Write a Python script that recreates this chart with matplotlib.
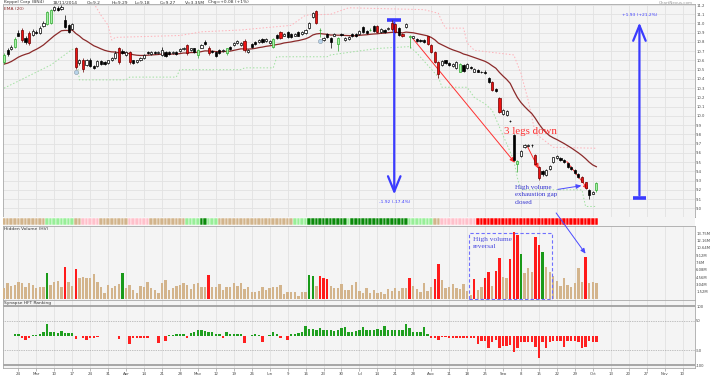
import numpy as np
import pandas as pd
import matplotlib.pyplot as plt
from matplotlib.patches import Rectangle, ConnectionPatch

# ---- price data ----
opens = [10.58, 10.71, 10.72, 10.75, 10.90, 10.93, 10.84, 10.90, 10.88, 10.91,
         10.90, 10.97, 10.99, 11.00, 11.15, 11.17, 11.16, 11.04, 10.98, 10.94,
         10.74, 10.57, 10.61, 10.55, 10.61, 10.54, 10.54, 10.59, 10.58, 10.57,
         10.60, 10.63, 10.73, 10.70, 10.66, 10.69, 10.60, 10.58, 10.60, 10.63,
         10.69, 10.67, 10.69, 10.68, 10.66, 10.69, 10.69, 10.68, 10.69, 10.70,
         10.72, 10.77, 10.71, 10.73, 10.66, 10.74, 10.80, 10.74, 10.70, 10.69,
         10.71, 10.70, 10.68, 10.75, 10.77, 10.79, 10.77, 10.81, 10.69, 10.78,
         10.80, 10.80, 10.83, 10.81, 10.79, 10.75, 10.88, 10.91, 10.87, 10.91,
         10.89, 10.87, 10.91, 10.89, 10.90, 10.95, 11.07, 11.13, 10.93, 10.82,
         10.89, 10.84, 10.87, 10.78, 10.89, 10.82, 10.83, 10.89, 10.89, 10.89,
         10.96, 10.92, 10.93, 10.97, 10.97, 10.91, 10.93, 10.94, 11.01, 10.99,
         10.95, 10.89, 10.96, 10.85, 10.84, 10.83, 10.82, 10.82, 10.86, 10.77,
         10.69, 10.58, 10.55, 10.60, 10.57, 10.54, 10.52, 10.48, 10.55, 10.52,
         10.53, 10.48, 10.50, 10.48, 10.48, 10.41, 10.37, 10.29, 10.19, 10.02,
         10.01, 9.95, 9.79, 9.48, 9.57, 9.66, 9.67, 9.69, 9.58, 9.45,
         9.40, 9.36, 9.43, 9.50, 9.54, 9.54, 9.52, 9.49, 9.45, 9.42,
         9.37, 9.34, 9.28, 9.20, 9.16, 9.20]
highs = [10.68, 10.73, 10.77, 10.85, 10.93, 10.95, 10.86, 10.92, 10.94, 10.93,
         10.97, 11.03, 11.13, 11.16, 11.19, 11.19, 11.20, 11.09, 10.99, 11.00,
         10.75, 10.62, 10.63, 10.62, 10.63, 10.55, 10.60, 10.60, 10.59, 10.61,
         10.64, 10.70, 10.75, 10.72, 10.70, 10.70, 10.61, 10.61, 10.64, 10.67,
         10.70, 10.70, 10.70, 10.70, 10.75, 10.70, 10.70, 10.70, 10.70, 10.73,
         10.75, 10.78, 10.74, 10.74, 10.72, 10.78, 10.82, 10.76, 10.71, 10.70,
         10.72, 10.72, 10.74, 10.76, 10.80, 10.82, 10.80, 10.83, 10.72, 10.79,
         10.81, 10.83, 10.84, 10.84, 10.82, 10.84, 10.89, 10.92, 10.90, 10.92,
         10.90, 10.90, 10.92, 10.92, 10.94, 11.02, 11.12, 11.15, 10.95, 10.85,
         10.90, 10.85, 10.90, 10.85, 10.90, 10.85, 10.86, 10.90, 10.90, 10.93,
         10.97, 10.93, 10.95, 10.98, 10.98, 10.95, 10.94, 10.96, 11.04, 11.00,
         10.96, 10.90, 11.00, 10.88, 10.87, 10.84, 10.83, 10.83, 10.87, 10.78,
         10.70, 10.59, 10.60, 10.61, 10.58, 10.57, 10.59, 10.57, 10.56, 10.57,
         10.54, 10.52, 10.51, 10.49, 10.50, 10.42, 10.38, 10.30, 10.20, 10.07,
         10.06, 9.96, 9.80, 9.52, 9.63, 9.70, 9.70, 9.70, 9.59, 9.46,
         9.41, 9.43, 9.47, 9.56, 9.58, 9.55, 9.53, 9.50, 9.46, 9.43,
         9.38, 9.35, 9.29, 9.21, 9.19, 9.29]
lows = [10.56, 10.65, 10.71, 10.74, 10.86, 10.80, 10.78, 10.77, 10.87, 10.89,
        10.89, 10.96, 10.98, 10.99, 11.14, 11.14, 11.15, 10.95, 10.90, 10.93,
        10.51, 10.55, 10.48, 10.54, 10.53, 10.51, 10.53, 10.55, 10.55, 10.56,
        10.59, 10.62, 10.56, 10.67, 10.65, 10.56, 10.56, 10.57, 10.59, 10.62,
        10.67, 10.66, 10.67, 10.67, 10.65, 10.64, 10.66, 10.67, 10.66, 10.69,
        10.71, 10.66, 10.70, 10.68, 10.63, 10.73, 10.77, 10.66, 10.68, 10.64,
        10.67, 10.69, 10.66, 10.71, 10.76, 10.78, 10.76, 10.69, 10.68, 10.74,
        10.77, 10.79, 10.79, 10.80, 10.78, 10.74, 10.83, 10.83, 10.86, 10.84,
        10.84, 10.86, 10.86, 10.88, 10.89, 10.94, 11.06, 10.99, 10.85, 10.81,
        10.84, 10.73, 10.86, 10.70, 10.87, 10.81, 10.82, 10.85, 10.85, 10.88,
        10.90, 10.89, 10.92, 10.91, 10.90, 10.90, 10.90, 10.93, 10.92, 10.90,
        10.87, 10.85, 10.95, 10.73, 10.83, 10.80, 10.80, 10.79, 10.77, 10.68,
        10.57, 10.41, 10.54, 10.56, 10.54, 10.53, 10.51, 10.47, 10.48, 10.51,
        10.51, 10.47, 10.47, 10.46, 10.45, 10.36, 10.27, 10.26, 10.03, 10.01,
        10.00, 9.93, 9.51, 9.39, 9.56, 9.65, 9.66, 9.66, 9.47, 9.31,
        9.35, 9.35, 9.42, 9.49, 9.53, 9.51, 9.49, 9.44, 9.42, 9.37,
        9.33, 9.28, 9.21, 9.10, 9.15, 9.18]
closes = [10.66, 10.67, 10.75, 10.83, 10.87, 10.82, 10.80, 10.79, 10.92, 10.90,
          10.95, 11.01, 11.12, 11.15, 11.18, 11.15, 11.18, 10.96, 10.91, 10.99,
          10.53, 10.61, 10.51, 10.61, 10.54, 10.52, 10.59, 10.56, 10.56, 10.60,
          10.63, 10.68, 10.58, 10.68, 10.69, 10.58, 10.57, 10.60, 10.63, 10.66,
          10.68, 10.69, 10.68, 10.69, 10.71, 10.65, 10.67, 10.69, 10.67, 10.72,
          10.74, 10.68, 10.73, 10.69, 10.71, 10.77, 10.78, 10.68, 10.69, 10.65,
          10.68, 10.71, 10.73, 10.72, 10.79, 10.81, 10.79, 10.71, 10.71, 10.75,
          10.78, 10.82, 10.80, 10.83, 10.81, 10.83, 10.84, 10.84, 10.89, 10.85,
          10.85, 10.89, 10.87, 10.91, 10.93, 11.01, 11.11, 11.00, 10.93, 10.84,
          10.85, 10.80, 10.89, 10.84, 10.88, 10.84, 10.85, 10.86, 10.86, 10.92,
          10.91, 10.90, 10.93, 10.92, 10.91, 10.94, 10.91, 10.95, 10.94, 10.91,
          10.88, 10.86, 10.99, 10.87, 10.86, 10.81, 10.81, 10.80, 10.78, 10.69,
          10.58, 10.45, 10.59, 10.57, 10.55, 10.56, 10.58, 10.56, 10.49, 10.56,
          10.52, 10.51, 10.48, 10.47, 10.46, 10.37, 10.28, 10.27, 10.04, 10.06,
          10.05, 9.94, 9.52, 9.51, 9.62, 9.69, 9.69, 9.68, 9.48, 9.33,
          9.37, 9.42, 9.46, 9.55, 9.57, 9.52, 9.50, 9.45, 9.43, 9.38,
          9.34, 9.29, 9.22, 9.14, 9.18, 9.27]
# candle colour: u = up, d = down, r = red, g = green
candle_kind = ("gdugdrdrud" "uuggududdu" "rurudduddu" "uurdurduuu" "duduuddudu"
               "urudgudrdd" "dugduuurud" "duduugdrud" "duduuuurgu" "ddugduuddu"
               "ddgdrudurr" "drugudddrr" "rrudduugdu" "duddddrdru" "uddguuudrr"
               "duuuuddddd" "drrdug")
signal_idx = [20, 88]
signal_price = [10.48, 10.81]
EMA_SEED = 10.55

upper_band_idx = [25, 27, 29, 30, 31, 49, 55, 66, 80, 84, 91, 96, 117, 121, 122,
                  123, 128, 129, 131, 142, 144, 146, 148, 153, 165]
upper_band_val = [11.22, 11.09, 10.98, 10.82, 10.85, 10.87, 10.91, 10.93, 10.98,
                  11.09, 11.10, 11.17, 11.15, 11.11, 11.02, 10.95, 10.95, 10.79,
                  10.71, 10.66, 10.46, 10.17, 9.81, 9.66, 9.65]
lower_band_idx = [0, 13, 19, 20, 21, 34, 35, 48, 49, 66, 67, 75, 76, 90, 91, 104,
                  113, 115, 121, 122, 129, 131, 134, 136, 142, 143, 144, 161, 162, 165]
lower_band_val = [10.30, 10.55, 10.72, 10.72, 10.39, 10.39, 10.42, 10.42, 10.50,
                  10.50, 10.52, 10.52, 10.64, 10.64, 10.66, 10.73, 10.75, 10.68,
                  10.42, 10.31, 10.31, 10.20, 10.13, 10.06, 9.52, 9.33, 9.20, 9.20,
                  9.02, 9.02]

# ---- hidden volume (millions) ----
volume = [2.35, 3.25, 2.76, 2.9, 3.6, 3.25, 2.55, 3.3, 2.9, 2.35,
          2.6, 2.5, 5.46, 2.9, 3.6, 3.7, 2.5, 6.7, 3.45, 2.76,
          6.2, 4.3, 4.5, 4.3, 4.4, 5.1, 3.6, 2.55, 1.2, 2.9,
          2.35, 2.76, 3.05, 5.46, 2.35, 2.9, 1.87, 1.2, 2.76, 2.6,
          3.6, 2.35, 1.8, 1.25, 3.25, 3.95, 1.8, 2.2, 2.76, 2.9,
          3.25, 2.9, 2.07, 3.05, 3.25, 2.5, 2.55, 4.98, 2.5, 2.6,
          3.05, 1.93, 2.5, 2.6, 3.25, 2.76, 3.25, 2.07, 2.6, 1.5,
          1.5, 1.66, 2.5, 1.8, 2.2, 2.5, 2.5, 2.9, 1.1, 1.5,
          1.5, 1.5, 0.7, 1.4, 1.5, 4.98, 4.77, 2.76, 4.77, 4.3,
          4.15, 2.76, 2.35, 2.35, 3.05, 1.8, 1.8,
          2.9, 3.45, 1.66, 1.2, 2.2, 1.2, 1.8, 1.3, 1.5, 0.97,
          2.07, 1.66, 2.35, 1.66, 2.2, 2.35, 4.4, 2.76, 2.07, 1.5,
          3.25, 1.66, 2.5, 4.1, 7.2, 3.95, 2.35, 2.5, 3.05, 2.2,
          2.07, 3.05, 1.66, 0.83, 4.1, 1.8, 2.5, 4.3, 5.54, 2.7,
          5.87, 8.44, 4.56, 4.4, 8.3, 13.84, 13.28, 9.27, 5.33, 6.37,
          5.54, 12.93, 11.2, 9.7, 6.7, 5.66, 4.83, 3.73, 2.76, 4.3,
          2.9, 2.5, 3.25, 6.37, 3.45, 8.7, 3.25, 3.6, 3.4]
vol_green = [12, 33, 85, 86, 144, 150]
vol_red = [17, 20, 57, 88, 89, 90, 113, 120, 121, 131, 134, 135, 137, 138,
           141, 142, 143, 148, 149, 162]
vol_ticks = [1.52, 3.04, 4.56, 6.08, 7.6, 9.12, 10.64, 12.16, 13.68]
vol_labels = ['1.52M', '3.04M', '4.56M', '6.08M', '7.6M', '9.12M', '10.64M',
              '12.16M', '13.75M']

# ---- synapse HFT ranking ----
hft = [-2, -2, -2, 6.8, 4, -9, -16, -9, 2, 3,
       6.8, 11, 38.5, 13.6, 11, 8, 16, 8, 8, 8,
       -12.5, -2, -9, -13.6, -6.8, -6.8, -4.5, -2, -2, -2,
       -2, -2, -11, -2, -2, -29.5, -6.8, -6.8, -6.8, -6.8,
       -6.8, -2, -2, -26, -2, -18, 2, 2, 4.5, 4.5,
       6.8, -9, 8, 11, 18, 18, 16, 11, 11, 6.8,
       4.5, -6.8, 11, 5.7, 4.5, 4.5, 4.5, -26, -2, 2,
       4.5, 2, -22.7, -2, 2, 11, 4.5, -6.8, -2.3, -16,
       4.5, 6.8, 8, 13.6, 34, 22.7, 22.7, 20.4, 27, 18,
       19, 18, 16, 20.4, 25, 30.6, 13.6,
       13.6, 16, 20.4, 28, 20, 20, 20, 22.7, 20, 34,
       20, 18, 18, 18, 20, 38.5, 25, 13.6, 13.6, 13.6,
       29.5, 6.8, -9, -6.8, -16, -4.5, -4.5, -9, -9, -9,
       -9, -9, -9, -9, -9, -29.5, -18, -18, -41, -20,
       -15, -41, -34, -34, -32, -54, -41, -20, -20, -20,
       -20, -37, -75, -20, -43, -20, -18, -18, -18, -37,
       -18, -18, -18, -22.7, -41, -37, -18, -20, -20]

# colour strip, run lengths
strip_runs = [('tan', 12), ('lgreen', 8), ('tan', 2), ('pink', 5), ('tan', 8),
              ('pink', 6), ('tan', 10), ('lgreen', 4), ('dgreen', 2), ('lgreen', 3),
              ('tan', 21), ('lgreen', 4), ('dgreen', 11), ('lgreen', 1), ('dgreen', 16),
              ('lgreen', 7), ('tan', 2), ('pink', 10), ('red', 34)]
strip_colors = {'tan': '#d2b48c', 'lgreen': '#98ee98', 'dgreen': '#0a8a0a',
                'pink': '#ffc0cb', 'red': '#ff0000'}

n = len(closes)
idx = np.arange(n)
dates = pd.bdate_range(end='2014-11-18', periods=n + 30)

ema = [EMA_SEED]
for c in closes:
    ema.append(ema[-1] + 2 / 21 * (c - ema[-1]))
ema = ema[1:]

W, H = 710, 375
AX_L, AX_R = 3, 695
XMIN = -0.28
XMAX = XMIN + (AX_R - AX_L) / 3.59
BG = '#f4f4f4'
GRID = '#e2e2e2'
BLUE = '#3b3bff'

week_ticks = [j for j in range(len(dates)) if dates[j].weekday() == 0 and j < XMAX]
week_labels = [dates[j].strftime('%b') if dates[j].day <= 7 else str(dates[j].day)
               for j in week_ticks]

fig = plt.figure(figsize=(W / 100, H / 100), dpi=100)


def place(top, bottom):
    return fig.add_axes([AX_L / W, 1 - bottom / H, (AX_R - AX_L) / W, (bottom - top) / H])


def style(ax):
    ax.set_facecolor(BG)
    ax.set_xlim(XMIN, XMAX)
    for s in ax.spines.values():
        s.set_color('#a8a8a8')
        s.set_linewidth(0.6)
    for j in week_ticks:
        ax.axvline(j, color=GRID, lw=0.6, zorder=0)
    ax.yaxis.tick_right()
    ax.tick_params(axis='y', length=0, labelsize=2.7, pad=0.8, colors='#444444')
    ax.tick_params(axis='x', length=0, labelbottom=False)


# ---- price panel ----
ax = place(4, 217)
style(ax)
ax.set_ylim(8.906, 11.211)
pticks = np.round(np.arange(9.0, 11.21, 0.1), 1)
ax.set_yticks(pticks)
ax.set_yticklabels([f'{v:.1f}' for v in pticks])
for v in pticks:
    ax.axhline(v, color=GRID, lw=0.6, zorder=0)

ax.plot(upper_band_idx, upper_band_val, color='#ffb0b8', lw=0.7, ls=(0, (1.5, 2)), zorder=1)
ax.plot(lower_band_idx, lower_band_val, color='#a0e0a0', lw=0.7, ls=(0, (1.5, 2)), zorder=1)
ax.plot(idx, ema, color='#8b2a2a', lw=0.9, zorder=2)

face = {'u': 'white', 'd': 'black', 'r': '#ee1111', 'g': '#a8f0a8'}
edge = {'u': 'black', 'd': 'black', 'r': '#6a0000', 'g': '#2ea82e'}
for i in range(n):
    k = candle_kind[i]
    lo, hi = min(opens[i], closes[i]), max(opens[i], closes[i])
    ax.vlines(i, lows[i], highs[i], color=edge[k], lw=0.5, zorder=3)
    ax.add_patch(Rectangle((i - 0.3, lo), 0.6, max(hi - lo, 0.004),
                           fc=face[k], ec=edge[k], lw=0.5, zorder=4))
ax.scatter(signal_idx, signal_price, s=9, c='#b8d4ea', edgecolors='#8a9aaa',
           linewidths=0.4, zorder=5)

# legs down
legs = [((113.4, 10.86), (142.8, 9.47)), ((145.4, 9.70), (149.3, 9.40)),
        ((156.3, 9.53), (163.2, 9.18))]
for a, b in legs:
    ax.annotate('', xy=b, xytext=a,
                arrowprops=dict(arrowstyle='-|>,head_length=0.5,head_width=0.22',
                                color='#ff3030', lw=0.7, mutation_scale=6))
ax.text(146.5, 9.836, '3 legs down', color='#ff3030', fontsize=7.8,
        family='Liberation Serif', ha='center', va='center')
ax.text(142.3, 9.25, 'High volume\nexhaustion gap\nclosed', color='#3434d0',
        fontsize=5, family='Liberation Serif', ha='left', va='top', linespacing=1.55)
ax.annotate('', xy=(161.6, 9.25), xytext=(153.5, 9.20),
            arrowprops=dict(arrowstyle='-|>,head_length=0.5,head_width=0.22',
                            color='#4a4aff', lw=0.7, mutation_scale=6))

# measuring arrows
ax.annotate('', xy=(108.7, 9.12), xytext=(108.7, 11.04),
            arrowprops=dict(arrowstyle='->,head_length=1.1,head_width=0.45',
                            color=BLUE, lw=1.6, mutation_scale=10))
ax.plot([106.8, 110.6], [11.04, 11.04], color=BLUE, lw=2.6, solid_capstyle='butt')
ax.text(108.7, 9.085, '-1.92 (-17.4%)', color=BLUE, fontsize=3.2, ha='center', va='top')
ax.annotate('', xy=(177, 11.04), xytext=(177, 9.11),
            arrowprops=dict(arrowstyle='->,head_length=1.1,head_width=0.45',
                            color=BLUE, lw=1.6, mutation_scale=10))
ax.plot([175.1, 178.9], [9.11, 9.11], color=BLUE, lw=2.6, solid_capstyle='butt')
ax.text(177, 11.065, '+1.93 (+21.2%)', color=BLUE, fontsize=3.2, ha='center', va='bottom')

ax.text(0.002, 0.985, 'EMA (20)', transform=ax.transAxes, fontsize=3.2,
        color='#8b2a2a', va='top')
fig.text(693 / W, 1 - 2.5 / H, 'ChartNexus.com', fontsize=3, color='#999999',
         ha='right', va='center')
header = [(4, 'Keppel Corp (BN4)'), (53, '18/11/2014'), (87, 'O=9.2'), (112, 'H=9.29'),
          (135, 'L=9.18'), (160, 'C=9.27'), (185, 'V=3.35M'), (208, 'Chg=+0.08 (+1%)')]
for hx, t in header:
    fig.text(hx / W, 1 - 2.5 / H, t, fontsize=3.2, color='#333333', va='center')

# ---- colour strip ----
axs = place(217, 226)
axs.set_facecolor(BG)
axs.set_xlim(XMIN, XMAX)
axs.set_ylim(0, 1)
axs.set_xticks([])
axs.set_yticks([])
for s in axs.spines.values():
    s.set_visible(False)
pos = 0
for name, cnt in strip_runs:
    for i in range(pos, pos + cnt):
        axs.add_patch(Rectangle((i - 0.5, 0.08), 1, 0.84, fc=strip_colors[name],
                                ec='white', lw=0.35))
    pos += cnt

# ---- hidden volume ----
axv = place(226, 300)
style(axv)
axv.set_ylim(-0.2, 15.15)
axv.set_yticks(vol_ticks)
axv.set_yticklabels(vol_labels)
vcol = ['#d3b48c'] * n
for i in vol_green:
    vcol[i] = '#199a19'
for i in vol_red:
    vcol[i] = '#ff1a1a'
axv.bar(idx, volume, width=0.66, color=vcol, zorder=3)
axv.add_patch(Rectangle((129.6, 0), 23, 13.8, fill=False, ls=(0, (3, 2)),
                        ec='#7070ff', lw=0.8, zorder=4))
axv.text(130.6, 12.9, 'High volume\nreversal', color='#4a4ae0', fontsize=5.3,
         family='Liberation Serif', ha='left', va='top', linespacing=1.5)
axv.text(0.002, 0.985, 'Hidden Volume (HV)', transform=axv.transAxes, fontsize=3.2,
         color='#333333', va='top')
fig.add_artist(ConnectionPatch(xyA=(153.8, 8.95), coordsA=ax.transData,
                               xyB=(162, 9.4), coordsB=axv.transData,
                               arrowstyle='-|>,head_length=0.5,head_width=0.22',
                               mutation_scale=6, color='#4a4aff', lw=0.7))

# ---- HFT ranking ----
axh = place(300, 368)
style(axh)
axh.set_ylim(-110, 121)
axh.set_yticks([100, 50, -50, -100])
axh.set_yticklabels(['100', '50', '-50', '-100'])
for v in (100, -100):
    axh.axhline(v, color='#a0a0a0', lw=1.3, zorder=1)
for v in (50, -50):
    axh.axhline(v, color='#8c8c8c', lw=0.5, ls=(0, (1, 1.5)), zorder=1)
hcol = ['#1f9f1f' if v > 0 else '#ff2020' for v in hft]
axh.bar(idx, hft, width=0.66, color=hcol, zorder=3)
axh.text(0.002, 0.985, 'Synapse HFT Ranking', transform=axh.transAxes, fontsize=3.2,
         color='#333333', va='top')
axh.set_xticks(week_ticks)
axh.set_xticklabels(week_labels)
axh.tick_params(axis='x', length=2, width=0.4, color='#888888', labelbottom=True,
                labelsize=2.8, pad=1, labelcolor='#444444')

fig.savefig('out.png', dpi=100)
